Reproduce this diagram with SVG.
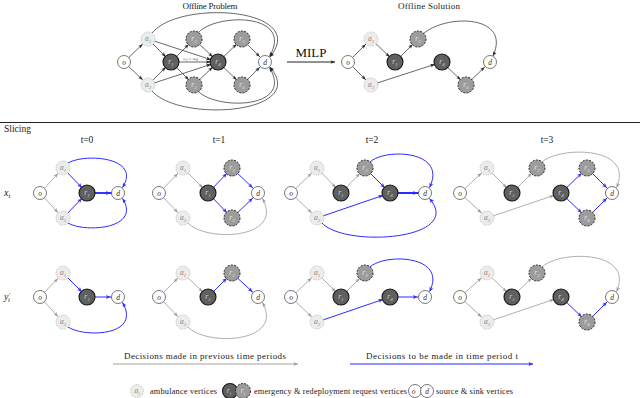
<svg xmlns="http://www.w3.org/2000/svg" width="640" height="398" viewBox="0 0 640 398">
<style>
text{font-family:"Liberation Serif","DejaVu Serif",serif}
.lab{font-size:7.5px;font-style:italic;text-anchor:middle}
.lab tspan{font-size:5px}
.na circle{fill:#ececec;stroke:#b8b8b8;stroke-width:.8;stroke-dasharray:1 .8}
.na text{fill:#858585}
.ne circle{fill:#606060;stroke:#161616;stroke-width:1.1}
.ne text{fill:#cfcfcf}
.nr circle{fill:#9c9c9c;stroke:#262626;stroke-width:1;stroke-dasharray:2 1.3}
.nr text{fill:#e2e2e2}
.nw circle{fill:#fff;stroke:#555;stroke-width:.8}
.nw text{fill:#333}
.k{stroke:#262626;stroke-width:.7;fill:none;marker-end:url(#mk)}
.kc{stroke:#262626;stroke-width:.7;fill:none;marker-end:url(#tk)}
.g{stroke:#9a9a9a;stroke-width:.8;fill:none;marker-end:url(#mg)}
.gc{stroke:#9a9a9a;stroke-width:.8;fill:none;marker-end:url(#tg)}
.b{stroke:#2b2bff;stroke-width:1;fill:none;marker-end:url(#mb)}
.bt{stroke-width:1.9}
.bc{stroke:#2b2bff;stroke-width:1;fill:none;marker-end:url(#tb)}
.ttl{font-size:9px;text-anchor:middle;fill:#222}
.leg{font-size:8.3px;fill:#222}
</style>
<defs>
<marker id="mk" markerUnits="userSpaceOnUse" orient="auto" refX="0" refY="0" markerWidth="1" markerHeight="1" style="overflow:visible"><path d="M-7.5,0 L-12,-1.8 L-11,0 L-12,1.8 Z" fill="#262626"/></marker>
<marker id="tk" markerUnits="userSpaceOnUse" orient="auto" refX="0" refY="0" markerWidth="1" markerHeight="1" style="overflow:visible"><path d="M0,0 L-4.5,-1.8 L-3.5,0 L-4.5,1.8 Z" fill="#262626"/></marker>
<marker id="mg" markerUnits="userSpaceOnUse" orient="auto" refX="0" refY="0" markerWidth="1" markerHeight="1" style="overflow:visible"><path d="M-7.5,0 L-12,-1.8 L-11,0 L-12,1.8 Z" fill="#9a9a9a"/></marker>
<marker id="tg" markerUnits="userSpaceOnUse" orient="auto" refX="0" refY="0" markerWidth="1" markerHeight="1" style="overflow:visible"><path d="M0,0 L-4.5,-1.8 L-3.5,0 L-4.5,1.8 Z" fill="#9a9a9a"/></marker>
<marker id="mb" markerUnits="userSpaceOnUse" orient="auto" refX="0" refY="0" markerWidth="1" markerHeight="1" style="overflow:visible"><path d="M-7.5,0 L-12,-2 L-11,0 L-12,2 Z" fill="#2b2bff"/></marker>
<marker id="tb" markerUnits="userSpaceOnUse" orient="auto" refX="0" refY="0" markerWidth="1" markerHeight="1" style="overflow:visible"><path d="M0,0 L-4.5,-2 L-3.5,0 L-4.5,2 Z" fill="#2b2bff"/></marker>
</defs>
<rect width="640" height="398" fill="#fff"/>

<text class="ttl" x="210" y="9" textLength="55">Offline Problem</text>
<text class="ttl" x="429" y="9" textLength="62">Offline Solution</text>
<text x="311" y="57" style="font-size:13px;text-anchor:middle;fill:#111">MILP</text>
<line x1="0" y1="122.5" x2="640" y2="122.5" stroke="#222" stroke-width="1"/>
<text x="4" y="132" style="font-size:9.5px;fill:#222">Slicing</text>
<text class="ttl" x="87" y="143" style="font-size:9.5px">t=0</text>
<text class="ttl" x="219" y="143" style="font-size:9.5px">t=1</text>
<text class="ttl" x="372" y="143" style="font-size:9.5px">t=2</text>
<text class="ttl" x="547" y="143" style="font-size:9.5px">t=3</text>
<text x="4" y="196" style="font-size:10px;font-style:italic;fill:#222">x<tspan dy="2" style="font-size:7px">t</tspan></text>
<text x="4" y="300" style="font-size:10px;font-style:italic;fill:#222">y<tspan dy="-3.5" style="font-size:7px">′</tspan><tspan dx="-2" dy="5.5" style="font-size:7px">t</tspan></text>
<text x="183" y="60" style="font-size:4.5px;font-style:italic;fill:#555">c<tspan dy="1" style="font-size:3.3px">r1</tspan><tspan dy="-1" style="font-style:normal"> ≥ </tspan>a<tspan dy="1" style="font-size:3.3px">r4</tspan></text>

<g id="connectors">
<line class="k" x1="124" y1="62" x2="148" y2="39"/>
<line class="k" x1="124" y1="62" x2="148" y2="85"/>
<line class="k" x1="148" y1="39" x2="171" y2="62"/>
<line class="k" x1="148" y1="85" x2="171" y2="62"/>
<line class="k" x1="148" y1="39" x2="218" y2="62"/>
<line class="k" x1="148" y1="85" x2="218" y2="62"/>
<line class="k" x1="171" y1="62" x2="194" y2="39"/>
<line class="k" x1="171" y1="62" x2="194" y2="85"/>
<line class="k" x1="171" y1="62" x2="218" y2="62"/>
<line class="k" x1="194" y1="39" x2="218" y2="62"/>
<line class="k" x1="194" y1="85" x2="218" y2="62"/>
<line class="k" x1="218" y1="62" x2="242" y2="39"/>
<line class="k" x1="218" y1="62" x2="242" y2="85"/>
<line class="k" x1="242" y1="39" x2="265" y2="62"/>
<line class="k" x1="242" y1="85" x2="265" y2="62"/>
<path class="kc" d="M152,33 C180,-1 310,8 270,57"/>
<path class="kc" d="M198,33 C215,13 295,12 269.5,56.5"/>
<path class="kc" d="M152,91 C180,123 310,114 270,67"/>
<path class="kc" d="M198,91 C215,110 295,110 269.5,67.5"/>
<line x1="287" y1="62" x2="335" y2="62" stroke="#222" stroke-width="1" marker-end="url(#tk)"/>
<line class="k" x1="348" y1="62" x2="371" y2="39"/>
<line class="k" x1="348" y1="62" x2="371" y2="85"/>
<line class="k" x1="371" y1="39" x2="395" y2="62"/>
<line class="k" x1="395" y1="62" x2="418" y2="39"/>
<line class="k" x1="371" y1="85" x2="442" y2="62"/>
<line class="k" x1="442" y1="62" x2="466" y2="85"/>
<line class="k" x1="466" y1="85" x2="490" y2="62"/>
<path class="kc" d="M423,34 C445,14 512,14 493,56"/>

<line class="g" x1="40" y1="193" x2="63" y2="168"/>
<line class="g" x1="40" y1="193" x2="63" y2="218"/>
<line class="b" x1="63" y1="168" x2="87" y2="193"/>
<line class="b" x1="63" y1="218" x2="87" y2="193"/>
<line class="b bt" x1="87" y1="193" x2="118" y2="193"/>
<path class="bc" d="M68,163 C85,153 142,157 122.5,187.5"/>
<path class="bc" d="M68,223 C85,233 142,229 122.5,198.5"/>
<line class="g" x1="159" y1="193" x2="183" y2="168"/>
<line class="g" x1="159" y1="193" x2="183" y2="218"/>
<line class="g" x1="183" y1="168" x2="208" y2="193"/>
<line class="b" x1="208" y1="193" x2="232" y2="168"/>
<line class="b" x1="208" y1="193" x2="232" y2="218"/>
<line class="b" x1="232" y1="168" x2="258" y2="193"/>
<line class="b" x1="232" y1="218" x2="258" y2="193"/>
<path class="gc" d="M188,223 C205,242 285,240 262.5,198.5"/>
<line class="g" x1="291" y1="193" x2="317" y2="168"/>
<line class="g" x1="291" y1="193" x2="317" y2="218"/>
<line class="g" x1="317" y1="168" x2="341" y2="193"/>
<line class="g" x1="341" y1="193" x2="365" y2="168"/>
<line class="b" x1="365" y1="168" x2="390" y2="193"/>
<line class="b" x1="317" y1="218" x2="390" y2="193"/>
<line class="b bt" x1="390" y1="193" x2="425" y2="193"/>
<path class="bc" d="M370,162 C385,148 448,150 429.5,187.5"/>
<path class="bc" d="M322,223 C345,248 465,240 429.5,198.5"/>
<line class="g" x1="460" y1="193" x2="487" y2="168"/>
<line class="g" x1="460" y1="193" x2="487" y2="218"/>
<line class="g" x1="487" y1="168" x2="512" y2="193"/>
<line class="g" x1="512" y1="193" x2="537" y2="168"/>
<line class="g" x1="487" y1="218" x2="561" y2="193"/>
<line class="b" x1="561" y1="193" x2="587" y2="168"/>
<line class="b" x1="561" y1="193" x2="587" y2="218"/>
<line class="b" x1="587" y1="168" x2="612" y2="193"/>
<line class="b" x1="587" y1="218" x2="612" y2="193"/>
<path class="gc" d="M542,162 C560,146 635,146 616.5,187.5"/>

<line class="g" x1="40" y1="297" x2="63" y2="273"/>
<line class="g" x1="40" y1="297" x2="63" y2="322"/>
<line class="b" x1="63" y1="273" x2="87" y2="297"/>
<line class="b" x1="87" y1="297" x2="118" y2="297"/>
<path class="bc" d="M68,327 C85,338 142,336 122.5,302.5"/>
<line class="g" x1="159" y1="297" x2="183" y2="273"/>
<line class="g" x1="159" y1="297" x2="183" y2="322"/>
<line class="g" x1="183" y1="273" x2="208" y2="297"/>
<line class="b" x1="208" y1="297" x2="232" y2="273"/>
<line class="b" x1="232" y1="273" x2="258" y2="297"/>
<path class="gc" d="M188,327 C205,346 285,344 262.5,302.5"/>
<line class="g" x1="291" y1="297" x2="317" y2="273"/>
<line class="g" x1="291" y1="297" x2="317" y2="322"/>
<line class="g" x1="317" y1="273" x2="341" y2="297"/>
<line class="g" x1="341" y1="297" x2="365" y2="273"/>
<line class="b" x1="317" y1="322" x2="390" y2="297"/>
<line class="b" x1="390" y1="297" x2="425" y2="297"/>
<path class="bc" d="M370,267 C385,253 448,255 429.5,291.5"/>
<line class="g" x1="460" y1="297" x2="487" y2="273"/>
<line class="g" x1="460" y1="297" x2="487" y2="322"/>
<line class="g" x1="487" y1="273" x2="512" y2="297"/>
<line class="g" x1="512" y1="297" x2="537" y2="273"/>
<line class="g" x1="487" y1="322" x2="561" y2="297"/>
<line class="b" x1="561" y1="297" x2="587" y2="322"/>
<line class="b" x1="587" y1="322" x2="612" y2="297"/>
<path class="gc" d="M542,267 C560,250 635,250 616.5,291.5"/>

<line x1="113" y1="364" x2="298" y2="364" stroke="#9a9a9a" stroke-width=".9" marker-end="url(#tg)"/>
<line x1="350" y1="364" x2="533" y2="364" stroke="#2b2bff" stroke-width="1.1" marker-end="url(#tb)"/>
</g>

<g id="p-o" class="nw"><circle cx="124" cy="62" r="6.5"/><text class="lab" x="124" y="64.5">o</text></g>
<g id="p-a1" class="na"><circle cx="148" cy="39" r="7"/><text class="lab" x="148" y="41">a<tspan dy="1.5">1</tspan></text></g>
<g id="p-a2" class="na"><circle cx="148" cy="85" r="7"/><text class="lab" x="148" y="87">a<tspan dy="1.5">2</tspan></text></g>
<g id="p-r1" class="ne"><circle cx="171" cy="62" r="8"/><text class="lab" x="171" y="64">r<tspan dy="1.5">1</tspan></text></g>
<g id="p-r2" class="nr"><circle cx="194" cy="39" r="8"/><text class="lab" x="194" y="41">r<tspan dy="1.5">2</tspan></text></g>
<g id="p-r3" class="nr"><circle cx="194" cy="85" r="8"/><text class="lab" x="194" y="87">r<tspan dy="1.5">3</tspan></text></g>
<g id="p-r4" class="ne"><circle cx="218" cy="62" r="8"/><text class="lab" x="218" y="64">r<tspan dy="1.5">4</tspan></text></g>
<g id="p-r5" class="nr"><circle cx="242" cy="39" r="8"/><text class="lab" x="242" y="41">r<tspan dy="1.5">5</tspan></text></g>
<g id="p-r6" class="nr"><circle cx="242" cy="85" r="8"/><text class="lab" x="242" y="87">r<tspan dy="1.5">6</tspan></text></g>
<g id="p-d" class="nw"><circle cx="265" cy="62" r="6.5"/><text class="lab" x="265" y="64.5">d</text></g>

<g id="s-o" class="nw"><circle cx="348" cy="62" r="6.5"/><text class="lab" x="348" y="64.5">o</text></g>
<g id="s-a1" class="na"><circle cx="371" cy="39" r="7"/><text class="lab" x="371" y="41">a<tspan dy="1.5">1</tspan></text></g>
<g id="s-a2" class="na"><circle cx="371" cy="85" r="7"/><text class="lab" x="371" y="87">a<tspan dy="1.5">2</tspan></text></g>
<g id="s-r1" class="ne"><circle cx="395" cy="62" r="8"/><text class="lab" x="395" y="64">r<tspan dy="1.5">1</tspan></text></g>
<g id="s-r2" class="nr"><circle cx="418" cy="39" r="8"/><text class="lab" x="418" y="41">r<tspan dy="1.5">2</tspan></text></g>
<g id="s-r4" class="ne"><circle cx="442" cy="62" r="8"/><text class="lab" x="442" y="64">r<tspan dy="1.5">4</tspan></text></g>
<g id="s-r6" class="nr"><circle cx="466" cy="85" r="8"/><text class="lab" x="466" y="87">r<tspan dy="1.5">6</tspan></text></g>
<g id="s-d" class="nw"><circle cx="490" cy="62" r="6.5"/><text class="lab" x="490" y="64.5">d</text></g>

<g id="x0-o" class="nw"><circle cx="40" cy="193" r="6.5"/><text class="lab" x="40" y="195.5">o</text></g>
<g id="x0-a1" class="na"><circle cx="63" cy="168" r="7"/><text class="lab" x="63" y="170">a<tspan dy="1.5">1</tspan></text></g>
<g id="x0-a2" class="na"><circle cx="63" cy="218" r="7"/><text class="lab" x="63" y="220">a<tspan dy="1.5">2</tspan></text></g>
<g id="x0-r1" class="ne"><circle cx="87" cy="193" r="8"/><text class="lab" x="87" y="195">r<tspan dy="1.5">1</tspan></text></g>
<g id="x0-d" class="nw"><circle cx="118" cy="193" r="6.5"/><text class="lab" x="118" y="195.5">d</text></g>
<g id="x1-o" class="nw"><circle cx="159" cy="193" r="6.5"/><text class="lab" x="159" y="195.5">o</text></g>
<g id="x1-a1" class="na"><circle cx="183" cy="168" r="7"/><text class="lab" x="183" y="170">a<tspan dy="1.5">1</tspan></text></g>
<g id="x1-a2" class="na"><circle cx="183" cy="218" r="7"/><text class="lab" x="183" y="220">a<tspan dy="1.5">2</tspan></text></g>
<g id="x1-r1" class="ne"><circle cx="208" cy="193" r="8"/><text class="lab" x="208" y="195">r<tspan dy="1.5">1</tspan></text></g>
<g id="x1-r2" class="nr"><circle cx="232" cy="168" r="8"/><text class="lab" x="232" y="170">r<tspan dy="1.5">2</tspan></text></g>
<g id="x1-r3" class="nr"><circle cx="232" cy="218" r="8"/><text class="lab" x="232" y="220">r<tspan dy="1.5">3</tspan></text></g>
<g id="x1-d" class="nw"><circle cx="258" cy="193" r="6.5"/><text class="lab" x="258" y="195.5">d</text></g>
<g id="x2-o" class="nw"><circle cx="291" cy="193" r="6.5"/><text class="lab" x="291" y="195.5">o</text></g>
<g id="x2-a1" class="na"><circle cx="317" cy="168" r="7"/><text class="lab" x="317" y="170">a<tspan dy="1.5">1</tspan></text></g>
<g id="x2-a2" class="na"><circle cx="317" cy="218" r="7"/><text class="lab" x="317" y="220">a<tspan dy="1.5">2</tspan></text></g>
<g id="x2-r1" class="ne"><circle cx="341" cy="193" r="8"/><text class="lab" x="341" y="195">r<tspan dy="1.5">1</tspan></text></g>
<g id="x2-r2" class="nr"><circle cx="365" cy="168" r="8"/><text class="lab" x="365" y="170">r<tspan dy="1.5">2</tspan></text></g>
<g id="x2-r4" class="ne"><circle cx="390" cy="193" r="8"/><text class="lab" x="390" y="195">r<tspan dy="1.5">4</tspan></text></g>
<g id="x2-d" class="nw"><circle cx="425" cy="193" r="6.5"/><text class="lab" x="425" y="195.5">d</text></g>
<g id="x3-o" class="nw"><circle cx="460" cy="193" r="6.5"/><text class="lab" x="460" y="195.5">o</text></g>
<g id="x3-a1" class="na"><circle cx="487" cy="168" r="7"/><text class="lab" x="487" y="170">a<tspan dy="1.5">1</tspan></text></g>
<g id="x3-a2" class="na"><circle cx="487" cy="218" r="7"/><text class="lab" x="487" y="220">a<tspan dy="1.5">2</tspan></text></g>
<g id="x3-r1" class="ne"><circle cx="512" cy="193" r="8"/><text class="lab" x="512" y="195">r<tspan dy="1.5">1</tspan></text></g>
<g id="x3-r2" class="nr"><circle cx="537" cy="168" r="8"/><text class="lab" x="537" y="170">r<tspan dy="1.5">2</tspan></text></g>
<g id="x3-r4" class="ne"><circle cx="561" cy="193" r="8"/><text class="lab" x="561" y="195">r<tspan dy="1.5">4</tspan></text></g>
<g id="x3-r5" class="nr"><circle cx="587" cy="168" r="8"/><text class="lab" x="587" y="170">r<tspan dy="1.5">5</tspan></text></g>
<g id="x3-r6" class="nr"><circle cx="587" cy="218" r="8"/><text class="lab" x="587" y="220">r<tspan dy="1.5">6</tspan></text></g>
<g id="x3-d" class="nw"><circle cx="612" cy="193" r="6.5"/><text class="lab" x="612" y="195.5">d</text></g>

<g id="y0-o" class="nw"><circle cx="40" cy="297" r="6.5"/><text class="lab" x="40" y="299.5">o</text></g>
<g id="y0-a1" class="na"><circle cx="63" cy="273" r="7"/><text class="lab" x="63" y="275">a<tspan dy="1.5">1</tspan></text></g>
<g id="y0-a2" class="na"><circle cx="63" cy="322" r="7"/><text class="lab" x="63" y="324">a<tspan dy="1.5">2</tspan></text></g>
<g id="y0-r1" class="ne"><circle cx="87" cy="297" r="8"/><text class="lab" x="87" y="299">r<tspan dy="1.5">1</tspan></text></g>
<g id="y0-d" class="nw"><circle cx="118" cy="297" r="6.5"/><text class="lab" x="118" y="299.5">d</text></g>
<g id="y1-o" class="nw"><circle cx="159" cy="297" r="6.5"/><text class="lab" x="159" y="299.5">o</text></g>
<g id="y1-a1" class="na"><circle cx="183" cy="273" r="7"/><text class="lab" x="183" y="275">a<tspan dy="1.5">1</tspan></text></g>
<g id="y1-a2" class="na"><circle cx="183" cy="322" r="7"/><text class="lab" x="183" y="324">a<tspan dy="1.5">2</tspan></text></g>
<g id="y1-r1" class="ne"><circle cx="208" cy="297" r="8"/><text class="lab" x="208" y="299">r<tspan dy="1.5">1</tspan></text></g>
<g id="y1-r2" class="nr"><circle cx="232" cy="273" r="8"/><text class="lab" x="232" y="275">r<tspan dy="1.5">2</tspan></text></g>
<g id="y1-d" class="nw"><circle cx="258" cy="297" r="6.5"/><text class="lab" x="258" y="299.5">d</text></g>
<g id="y2-o" class="nw"><circle cx="291" cy="297" r="6.5"/><text class="lab" x="291" y="299.5">o</text></g>
<g id="y2-a1" class="na"><circle cx="317" cy="273" r="7"/><text class="lab" x="317" y="275">a<tspan dy="1.5">1</tspan></text></g>
<g id="y2-a2" class="na"><circle cx="317" cy="322" r="7"/><text class="lab" x="317" y="324">a<tspan dy="1.5">2</tspan></text></g>
<g id="y2-r1" class="ne"><circle cx="341" cy="297" r="8"/><text class="lab" x="341" y="299">r<tspan dy="1.5">1</tspan></text></g>
<g id="y2-r2" class="nr"><circle cx="365" cy="273" r="8"/><text class="lab" x="365" y="275">r<tspan dy="1.5">2</tspan></text></g>
<g id="y2-r4" class="ne"><circle cx="390" cy="297" r="8"/><text class="lab" x="390" y="299">r<tspan dy="1.5">4</tspan></text></g>
<g id="y2-d" class="nw"><circle cx="425" cy="297" r="6.5"/><text class="lab" x="425" y="299.5">d</text></g>
<g id="y3-o" class="nw"><circle cx="460" cy="297" r="6.5"/><text class="lab" x="460" y="299.5">o</text></g>
<g id="y3-a1" class="na"><circle cx="487" cy="273" r="7"/><text class="lab" x="487" y="275">a<tspan dy="1.5">1</tspan></text></g>
<g id="y3-a2" class="na"><circle cx="487" cy="322" r="7"/><text class="lab" x="487" y="324">a<tspan dy="1.5">2</tspan></text></g>
<g id="y3-r1" class="ne"><circle cx="512" cy="297" r="8"/><text class="lab" x="512" y="299">r<tspan dy="1.5">1</tspan></text></g>
<g id="y3-r2" class="nr"><circle cx="537" cy="273" r="8"/><text class="lab" x="537" y="275">r<tspan dy="1.5">2</tspan></text></g>
<g id="y3-r4" class="ne"><circle cx="561" cy="297" r="8"/><text class="lab" x="561" y="299">r<tspan dy="1.5">4</tspan></text></g>
<g id="y3-r6" class="nr"><circle cx="587" cy="322" r="8"/><text class="lab" x="587" y="324">r<tspan dy="1.5">6</tspan></text></g>
<g id="y3-d" class="nw"><circle cx="612" cy="297" r="6.5"/><text class="lab" x="612" y="299.5">d</text></g>

<text class="ttl" x="205" y="359" textLength="162">Decisions made in previous time periods</text>
<text class="ttl" x="442" y="359" textLength="152">Decisions to be made in time period t</text>
<g id="leg-a" class="na"><circle cx="137" cy="391" r="6.5"/><text class="lab" x="137" y="393">a<tspan dy="1.5">i</tspan></text></g>
<text class="leg" x="150" y="394" textLength="67">ambulance vertices</text>
<g id="leg-re" class="ne"><circle cx="230" cy="391" r="7.5"/><text class="lab" x="229" y="393">r<tspan dy="1.5">i</tspan></text></g>
<g id="leg-rr" class="nr"><circle cx="243" cy="391" r="7.5"/><text class="lab" x="243" y="393">r<tspan dy="1.5">i</tspan></text></g>
<text class="leg" x="254" y="394" textLength="153">emergency &amp; redeployment request vertices</text>
<g id="leg-o" class="nw"><circle cx="415" cy="391" r="6.5"/><text class="lab" x="413.5" y="393.5">o</text></g>
<g id="leg-d" class="nw"><circle cx="427" cy="391" r="6.5"/><text class="lab" x="427" y="393.5">d</text></g>
<text class="leg" x="436" y="394" textLength="77">source &amp; sink vertices</text>
</svg>
